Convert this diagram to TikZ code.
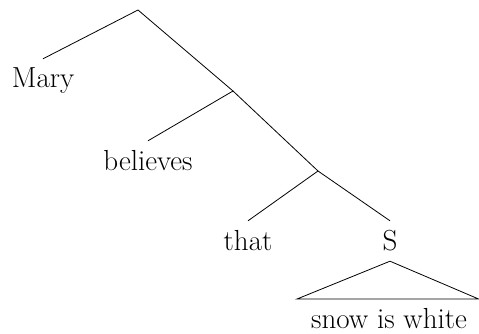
\documentclass[tikz,border=0pt]{standalone}
\usepackage{fontspec}
\usepackage{tikz}

\begin{document}
\begin{tikzpicture}[
  x=1pt, y=-1pt,
  word/.style={font=\fontsize{29}{34}\selectfont, anchor=base, inner xsep=0pt, inner ysep=9pt, text height=20pt, text depth=2pt},
  edge/.style={line width=0.8pt}
]
\useasboundingbox (0,0) rectangle (479,334);

% branching points
\coordinate (top) at (138,10);
\coordinate (vp1) at (233,91);
\coordinate (vp2) at (318,171);

% leaves
\node[word] (mary) at (43,88) {Mary};
\node[word] (believes) at (148,170) {believes};
\node[word] (that) at (248,250) {that};
\node[word] (s) at (390,250) {S};
\node[word] (snow) at (389,328) {snow is white};

% triangle base
\coordinate (tl) at (297,299);
\coordinate (tr) at (478.6,299);

\draw[edge] (top) -- (mary.north);
\draw[edge] (top) -- (vp1);
\draw[edge] (vp1) -- (believes.north);
\draw[edge] (vp1) -- (vp2);
\draw[edge] (vp2) -- (that.north);
\draw[edge] (vp2) -- (s.north);
\draw[edge] (s.south) -- (tl) -- (tr) -- cycle;
\end{tikzpicture}
\end{document}
